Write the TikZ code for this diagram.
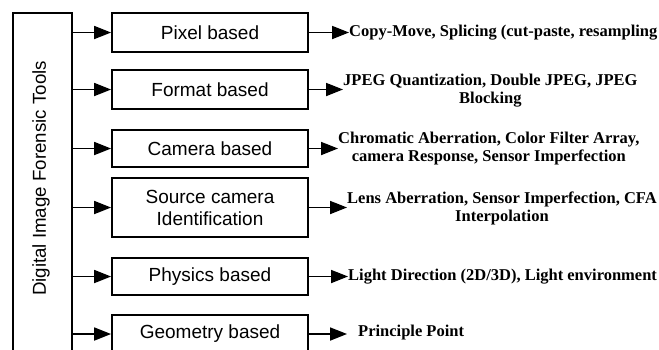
\documentclass[tikz,border=0pt]{standalone}
\usepackage{fontspec}
\setmainfont{Liberation Serif}
\setsansfont{Liberation Sans}
\usetikzlibrary{arrows.meta}
\begin{document}
\begin{tikzpicture}[x=1pt,y=-1pt,
  box/.style={draw, line width=1.8pt, minimum width=196pt, inner sep=0pt, align=center, font=\sffamily\fontsize{19}{22}\selectfont},
  arr/.style={line width=1.8pt, -{Triangle[length=17pt,width=13pt]}},
  desc/.style={anchor=west, inner sep=0pt, align=center, font=\bfseries\fontsize{16.5}{18}\selectfont}]
\useasboundingbox (0,0) rectangle (659,349);
\clip (0,0) rectangle (659,349);
\node[box, minimum width=59pt, minimum height=345pt] (tools) at (42.5,185.5) {};
\node[rotate=90, inner sep=0pt, font=\sffamily\fontsize{18.7}{22}\selectfont] (toolstext) at (41,178.5) {Digital Image Forensic Tools};
\node[box, minimum height=39pt] (p1) at (210,32.5) {Pixel based};
\node[box, minimum height=39pt] (p2) at (210,89.5) {Format based};
\node[box, minimum height=37pt] (p3) at (210,148.5) {Camera based};
\node[box, minimum height=59pt] (p4) at (210,207.5) {Source camera\\Identification};
\node[box, minimum height=37pt] (p5) at (210,276.5) {Physics based};
\node[box, minimum height=38pt] (p6) at (210,334) {Geometry based};
\foreach \i in {1,...,6}{
  \draw[arr] (tools.east |- p\i.west) -- (p\i.west);
}
\node[desc] (t1) at (349,32.5) {Copy-Move, Splicing (cut-paste, resampling};
\node[desc] (t2) at (343,91) {JPEG Quantization, Double JPEG, JPEG\\Blocking};
\node[desc] (t3) at (338,149) {Chromatic Aberration, Color Filter Array,\\camera Response, Sensor Imperfection};
\node[desc] (t4) at (347,208) {Lens Aberration, Sensor Imperfection, CFA\\Interpolation};
\node[desc] (t5) at (348,277) {Light Direction (2D/3D), Light environment};
\node[desc] (t6) at (358,333) {Principle Point};
\foreach \i in {1,...,5}{
  \draw[arr] (p\i.east) -- (p\i.east -| t\i.west);
}
\draw[arr, shorten >=11pt] (p6.east) -- (p6.east -| t6.west);
\end{tikzpicture}
\end{document}
